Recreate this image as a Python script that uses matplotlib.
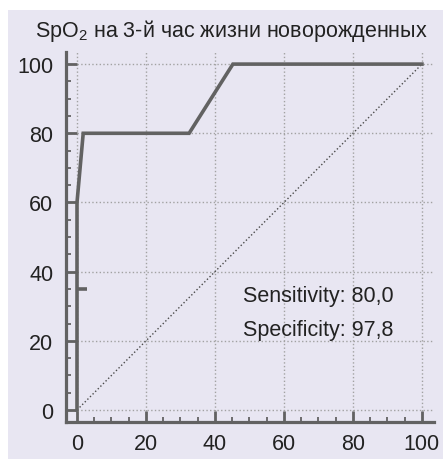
import matplotlib as mpl
mpl.use('Agg')
import matplotlib.pyplot as plt
from matplotlib.patches import Rectangle
from matplotlib.ticker import MultipleLocator

plt.rcParams['font.family'] = ['Liberation Sans', 'DejaVu Sans']
plt.rcParams['mathtext.default'] = 'regular'

# ROC curve points (1 - specificity, sensitivity)
roc_x = [0, 0, 1.8, 32.5, 45.2, 100]
roc_y = [0, 60, 80, 80, 100, 100]
# short mark at the chosen cut-off
cut_x = [0, 2.8]
cut_y = [35, 35]
ticks = [0, 20, 40, 60, 80, 100]
title = 'SpO$_2$ на 3-й час жизни новорожденных'
notes = ['Sensitivity: 80,0', 'Specificity: 97,8']

bg = '#e8e6f2'
dark = '#626262'
txt = '#222222'

fig = plt.figure(figsize=(4.43, 4.60), dpi=100)
fig.patch.set_facecolor('white')
fig.patches.append(Rectangle((8 / 443, 0), 1 - 8 / 443, 449 / 460,
                             transform=fig.transFigure, facecolor=bg,
                             edgecolor='none', zorder=-10))

ax = fig.add_axes([66 / 443, 37 / 460, 368 / 443, 370 / 460])
ax.set_facecolor(bg)
ax.set_xlim(-3.19, 103.5)
ax.set_ylim(-3.47, 103.5)

for s in ['top', 'right']:
    ax.spines[s].set_visible(False)
for s in ['left', 'bottom']:
    ax.spines[s].set_color(dark)
    ax.spines[s].set_linewidth(2.3)

ax.set_xticks(ticks)
ax.set_yticks(ticks)
ax.xaxis.set_minor_locator(MultipleLocator(5))
ax.yaxis.set_minor_locator(MultipleLocator(5))
ax.tick_params(which='major', direction='in', length=8, width=2.0,
               color=dark, labelsize=15.5, labelcolor=txt)
ax.tick_params(axis='x', which='major', pad=8)
ax.tick_params(axis='y', which='major', pad=9)
ax.tick_params(which='minor', direction='in', length=3.8, width=1.3, color=dark)

ax.grid(True, which='major', linestyle=':', color='#a2a2a2', linewidth=1.0)
ax.set_axisbelow(True)

ax.plot([0, 100], [0, 100], linestyle=':', color='#4a4a4a', linewidth=1.0)
ax.plot(roc_x, roc_y, color=dark, linewidth=2.6, solid_joinstyle='miter',
        clip_on=False)
ax.plot(cut_x, cut_y, color=dark, linewidth=2.6, solid_capstyle='butt')

ax.text(48, 33, notes[0], fontsize=15.5, color=txt, va='center')
ax.text(48, 23.2, notes[1], fontsize=15.5, color=txt, va='center')

fig.text(231 / 443, 1 - 31 / 460, title, fontsize=15.5, color=txt,
         ha='center', va='center')

fig.savefig('out.png', dpi=100)
